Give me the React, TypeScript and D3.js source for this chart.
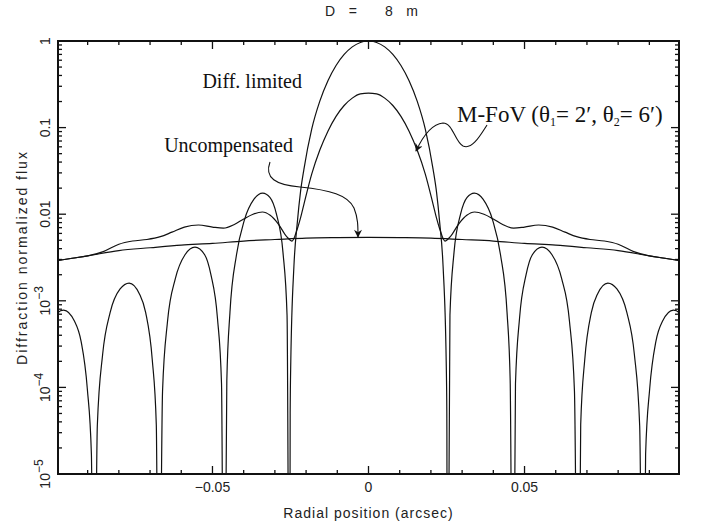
import * as d3 from "d3";

// x in arcsec, y = normalized flux
const diffLimited: [number, number][] = [
  [-0.1036, 3.6e-4], [-0.1004, 6.8e-4], [-0.0977, 7.8e-4], [-0.0942, 5.8e-4], [-0.0921, 3.4e-4],
  [-0.0901, 9.6e-5], [-0.0888, 1.7e-5], [-0.088, 1e-8],
  [-0.0869, 3.6e-5], [-0.0852, 2.4e-4], [-0.0828, 7.3e-4], [-0.0796, 1.37e-3], [-0.0767, 1.6e-3],
  [-0.0734, 1.2e-3], [-0.0714, 7.3e-4], [-0.0693, 2.1e-4], [-0.068, 3.7e-5], [-0.0672, 1e-8],
  [-0.066, 9e-5], [-0.0644, 5.8e-4], [-0.0619, 1.8e-3], [-0.0588, 3.4e-3], [-0.0556, 4.16e-3],
  [-0.0525, 3.4e-3], [-0.0505, 2.0e-3], [-0.0484, 6.3e-4], [-0.0471, 1.1e-4], [-0.0463, 1e-8],
  [-0.0454, 1.2e-4], [-0.0444, 7.3e-4], [-0.0423, 3.4e-3], [-0.0398, 8.5e-3], [-0.0367, 0.0149],
  [-0.0339, 0.0175], [-0.0316, 0.0156], [-0.0295, 0.01], [-0.0274, 3.6e-3], [-0.0261, 6.8e-4],
  [-0.0253, 1e-8],
  [-0.0251, 5e-5], [-0.0249, 2.0e-4], [-0.0239, 2.5e-3], [-0.0228, 8.1e-3], [-0.0218, 0.018],
  [-0.0207, 0.033], [-0.0182, 0.096], [-0.0156, 0.202], [-0.013, 0.347], [-0.0104, 0.521],
  [-0.0078, 0.699], [-0.0052, 0.855], [-0.0026, 0.962], [0, 1],
  [0.0026, 0.962], [0.0052, 0.855], [0.0078, 0.699], [0.0104, 0.521], [0.013, 0.347],
  [0.0156, 0.202], [0.0182, 0.096], [0.0207, 0.033], [0.0218, 0.018], [0.0228, 8.1e-3],
  [0.0239, 2.5e-3], [0.0249, 2.0e-4], [0.0251, 5e-5],
  [0.0253, 1e-8],
  [0.0261, 6.8e-4], [0.0274, 3.6e-3], [0.0295, 0.01], [0.0316, 0.0156], [0.0339, 0.0175],
  [0.0367, 0.0149], [0.0398, 8.5e-3], [0.0423, 3.4e-3], [0.0444, 7.3e-4], [0.0454, 1.2e-4],
  [0.0463, 1e-8],
  [0.0471, 1.1e-4], [0.0484, 6.3e-4], [0.0505, 2.0e-3], [0.0525, 3.4e-3], [0.0556, 4.16e-3],
  [0.0588, 3.4e-3], [0.0619, 1.8e-3], [0.0644, 5.8e-4], [0.066, 9e-5], [0.0672, 1e-8],
  [0.068, 3.7e-5], [0.0693, 2.1e-4], [0.0714, 7.3e-4], [0.0734, 1.2e-3], [0.0767, 1.6e-3],
  [0.0796, 1.37e-3], [0.0828, 7.3e-4], [0.0852, 2.4e-4], [0.0869, 3.6e-5], [0.088, 1e-8],
  [0.0888, 1.7e-5], [0.0901, 9.6e-5], [0.0921, 3.4e-4], [0.0942, 5.8e-4], [0.0977, 7.8e-4],
  [0.1004, 6.8e-4], [0.1036, 3.6e-4],
];

const mFov: [number, number][] = [
  [-0.1, 0.0029], [-0.095, 0.0031], [-0.09, 0.0033], [-0.085, 0.0037], [-0.08, 0.0045],
  [-0.0756, 0.0049], [-0.071, 0.0051], [-0.0667, 0.0055], [-0.063, 0.0062], [-0.059, 0.0071],
  [-0.0545, 0.0075], [-0.05, 0.0071], [-0.0465, 0.0069], [-0.043, 0.0076], [-0.04, 0.0088],
  [-0.037, 0.01], [-0.034, 0.0106], [-0.0315, 0.0097], [-0.029, 0.0078], [-0.0262, 0.0055],
  [-0.0245, 0.0049], [-0.0228, 0.0068], [-0.0218, 0.009], [-0.0207, 0.013], [-0.0182, 0.029],
  [-0.0156, 0.055], [-0.013, 0.091], [-0.0104, 0.135], [-0.0078, 0.18], [-0.0052, 0.219],
  [-0.0026, 0.245], [0, 0.25],
  [0.0026, 0.245], [0.0052, 0.219], [0.0078, 0.18], [0.0104, 0.135], [0.013, 0.091],
  [0.0156, 0.055], [0.0182, 0.029], [0.0207, 0.013], [0.0218, 0.009], [0.0228, 0.0068],
  [0.0245, 0.0049], [0.0262, 0.0055], [0.029, 0.0078], [0.0315, 0.0097], [0.034, 0.0106],
  [0.037, 0.01], [0.04, 0.0088], [0.043, 0.0076], [0.0465, 0.0069], [0.05, 0.0071],
  [0.0545, 0.0075], [0.059, 0.0071], [0.063, 0.0062], [0.0667, 0.0055], [0.071, 0.0051],
  [0.0756, 0.0049], [0.08, 0.0045], [0.085, 0.0037], [0.09, 0.0033], [0.095, 0.0031],
  [0.1, 0.0029],
];

const uncompensated: [number, number][] = [
  [-0.1, 0.0029], [-0.09, 0.0033], [-0.08, 0.0038], [-0.07, 0.0041], [-0.06, 0.0044],
  [-0.05, 0.0046], [-0.04, 0.0049], [-0.03, 0.0051], [-0.02, 0.0053], [-0.01, 0.00537],
  [0, 0.0054], [0.01, 0.00537], [0.02, 0.0053], [0.03, 0.0051], [0.04, 0.0049],
  [0.05, 0.0046], [0.06, 0.0044], [0.07, 0.0041], [0.08, 0.0038], [0.09, 0.0033],
  [0.1, 0.0029],
];

const xMajor = [-0.05, 0, 0.05];
const xMajorLabels = ["\u22120.05", "0", "0.05"];
const xMinor = [-0.09, -0.08, -0.07, -0.06, -0.04, -0.03, -0.02, -0.01, 0.01, 0.02, 0.03, 0.04, 0.06, 0.07, 0.08, 0.09];
const yMajor = [1, 0.1, 0.01, 1e-3, 1e-4, 1e-5];
const yMajorLabels = [["1", ""], ["0.1", ""], ["0.01", ""], ["10", "\u22123"], ["10", "\u22124"], ["10", "\u22125"]];

const W = 706;
const H = 529;
const M = { left: 58, right: 27, top: 41, bottom: 55 };

export default function App() {
  const x = d3.scaleLinear().domain([-0.0995, 0.0995]).range([M.left, W - M.right]);
  const y = d3.scaleLog().domain([1e-5, 1]).range([H - M.bottom, M.top]);
  const [x0, x1] = x.range();
  const [yb, yt] = y.range();

  const yMinor: number[] = [];
  yMajor.slice(1).forEach((d) => {
    for (let k = 2; k <= 9; k++) yMinor.push(d * k);
  });

  const line = d3
    .line<[number, number]>()
    .x((d) => x(d[0]))
    .y((d) => y(d[1]))
    .curve(d3.curveMonotoneX);

  const sans = "'Liberation Sans', Arial, sans-serif";
  const serif = "'Liberation Serif', 'Times New Roman', serif";
  const txt = "#222";

  return (
    <svg width={W} height={H} style={{ position: "absolute", left: 0, top: 0, background: "#fff" }}>
      <defs>
        <clipPath id="plot">
          <rect x={x0} y={yt} width={x1 - x0} height={yb - yt} />
        </clipPath>
        <marker id="arr" viewBox="0 0 10 10" refX="9" refY="5" markerWidth="10" markerHeight="8" markerUnits="userSpaceOnUse" orient="auto">
          <path d="M0,0 L10,5 L0,10 L3,5 Z" fill="#111" />
        </marker>
      </defs>

      {/* title */}
      <text x={325} y={16} fontFamily={sans} fontSize={14} fill={txt} textLength={32} lengthAdjust="spacing">D =</text>
      <text x={385} y={16} fontFamily={sans} fontSize={14} fill={txt} textLength={33} lengthAdjust="spacing">8 m</text>

      {/* curves */}
      <g clipPath="url(#plot)" fill="none" stroke="#111" strokeWidth={1.2}>
        <path d={line(uncompensated) || ""} />
        <path d={line(mFov) || ""} />
        <path d={line(diffLimited) || ""} />
      </g>

      {/* ticks */}
      <g stroke="#111" strokeWidth={1.3}>
        {xMajor.map((d) => (
          <g key={"xm" + d}>
            <line x1={x(d)} x2={x(d)} y1={yb} y2={yb - 8} />
            <line x1={x(d)} x2={x(d)} y1={yt} y2={yt + 8} />
          </g>
        ))}
        {xMinor.map((d) => (
          <g key={"xn" + d}>
            <line x1={x(d)} x2={x(d)} y1={yb} y2={yb - 4} />
            <line x1={x(d)} x2={x(d)} y1={yt} y2={yt + 4} />
          </g>
        ))}
        {yMajor.map((d) => (
          <g key={"ym" + d}>
            <line x1={x0} x2={x0 + 8} y1={y(d)} y2={y(d)} />
            <line x1={x1} x2={x1 - 8} y1={y(d)} y2={y(d)} />
          </g>
        ))}
        {yMinor.map((d) => (
          <g key={"yn" + d}>
            <line x1={x0} x2={x0 + 4} y1={y(d)} y2={y(d)} />
            <line x1={x1} x2={x1 - 4} y1={y(d)} y2={y(d)} />
          </g>
        ))}
      </g>
      <rect x={x0} y={yt} width={x1 - x0} height={yb - yt} fill="none" stroke="#111" strokeWidth={2} />

      {/* tick labels */}
      <g fontFamily={sans} fontSize={14} fill={txt}>
        {xMajor.map((d, i) => (
          <text key={"xl" + d} x={x(d)} y={yb + 18} textAnchor="middle">{xMajorLabels[i]}</text>
        ))}
        {yMajor.map((d, i) => (
          <text key={"yl" + d} transform={`translate(50,${y(d)}) rotate(-90)`} textAnchor="middle">
            {yMajorLabels[i][0]}
            {yMajorLabels[i][1] && (
              <tspan dy={-7} fontSize={12}>{yMajorLabels[i][1]}</tspan>
            )}
          </text>
        ))}
      </g>

      {/* axis titles */}
      <text x={(x0 + x1) / 2} y={518} textAnchor="middle" fontFamily={sans} fontSize={14} fill={txt} letterSpacing={1}>
        Radial position (arcsec)
      </text>
      <text transform={`translate(27,${(yt + yb) / 2}) rotate(-90)`} textAnchor="middle" fontFamily={sans} fontSize={14} fill={txt} letterSpacing={2}>
        Diffraction normalized flux
      </text>

      {/* annotations */}
      <g fontFamily={serif} fontSize={20} fill="#111">
        <text x={302} y={88} textAnchor="end">Diff. limited</text>
        <text x={293} y={152} textAnchor="end">Uncompensated</text>
        <text x={457} y={122} fontSize={23}>
          M-FoV (θ<tspan dy={4} fontSize={12}>1</tspan>
          <tspan dy={-4}>= 2′, θ</tspan>
          <tspan dy={4} fontSize={12}>2</tspan>
          <tspan dy={-4}>= 6′)</tspan>
        </text>
      </g>
      <g fill="none" stroke="#111" strokeWidth={1.1}>
        <path d="M270,162 C264,178 276,185 300,187 C330,190 348,195 354,208 C358,218 358,226 358,237" markerEnd="url(#arr)" />
        <path d="M487,125 C480,136 472,150 463,146 C455,142 453,123 443,123 C432,124 423,136 416,151" markerEnd="url(#arr)" />
      </g>
    </svg>
  );
}
